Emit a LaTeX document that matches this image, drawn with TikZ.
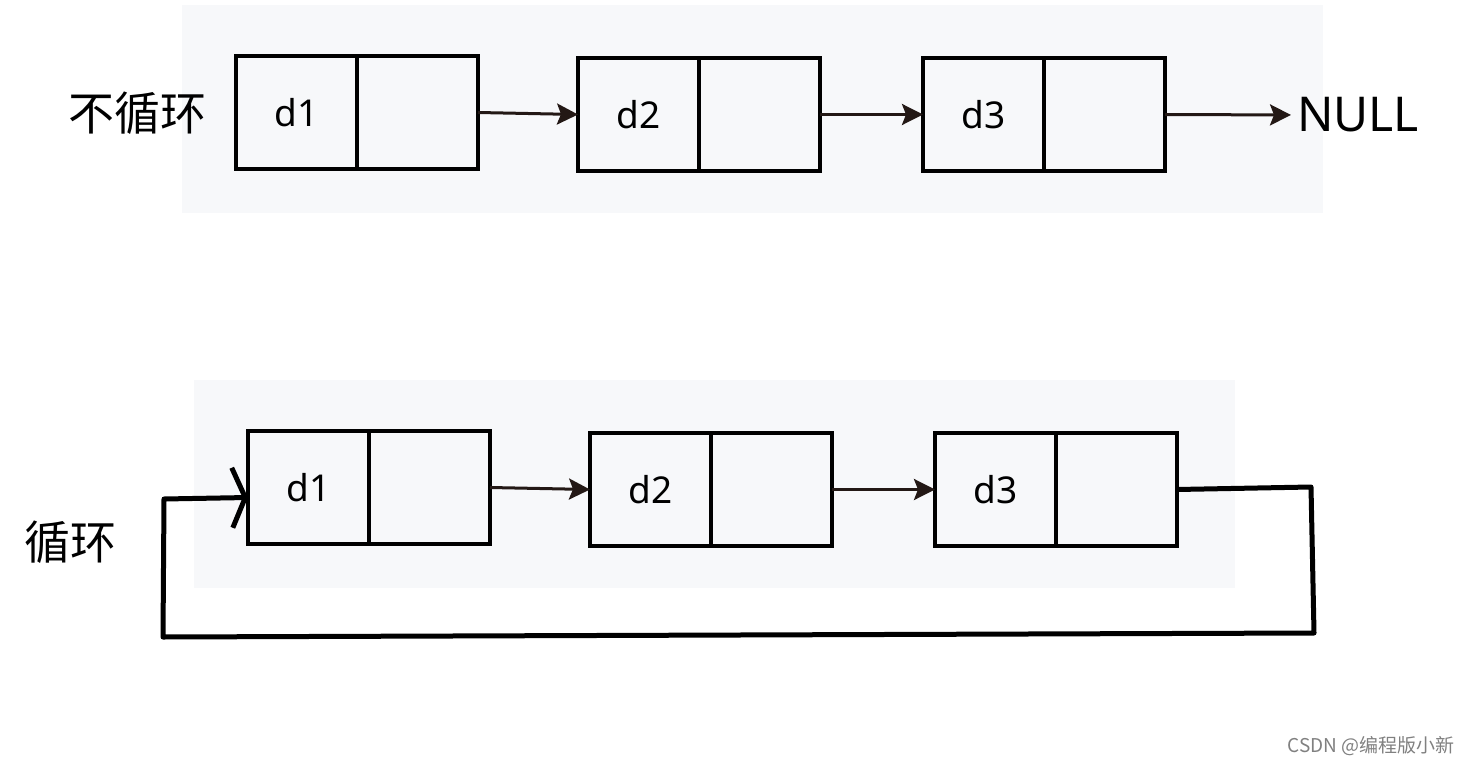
\documentclass[tikz,border=0pt]{standalone}
\usepackage{fontspec}
\setmainfont{Noto Sans}
\newfontfamily\cjk{Noto Sans CJK SC}
\usetikzlibrary{arrows.meta,positioning}
\definecolor{panelbg}{HTML}{F7F8FA}
\definecolor{ink}{HTML}{231815}
\tikzset{
    %Define standard arrow tip
    >={Stealth[length=21pt,width=21pt,inset=4pt]},
    cell/.style={
      rectangle,
      draw=black, line width=3.5pt,
      minimum width=121pt,
      minimum height=113pt,
      inner sep=0pt, outer sep=0pt,
      font=\fontsize{37}{42}\selectfont,
      text centered},
    link/.style={
      ->, draw=ink, line width=3pt},
    panel/.style={
      fill=panelbg, draw=none},
    label/.style={
      font=\cjk\fontsize{46}{52}\selectfont,
      inner sep=0pt},
}
\begin{document}
\begin{tikzpicture}[x=1pt,y=-1pt,node distance=100pt]
    \useasboundingbox (0,0) rectangle (1469,765);
    \fill[panel] (182,5) rectangle (1323,213);
    \fill[panel] (194,380) rectangle (1235,588);
    % top row
    \node (a1) [cell] at (296.5,112.5) {d1};
    \node (a1p) [cell] [right=0pt of a1] {};
    \node (a2) [cell] [right=100pt of a1p, yshift=-2pt] {d2};
    \node (a2p) [cell] [right=0pt of a2] {};
    \node (a3) [cell] [right=103pt of a2p] {d3};
    \node (a3p) [cell] [right=0pt of a3] {};
    \node (null) [anchor=west, inner sep=0pt, font=\fontsize{48}{54}\selectfont]
          at (1297,115) {NULL};
    \node (open) [label] at (137,113) {不循环};
    \draw [link] (a1p.east) -- (a2.west);
    \draw [link] (a2p.east) -- (a3.west);
    \draw [link, shorten >=6pt] (a3p.east) -- (null.west);
    % bottom row
    \node (b1) [cell] at (308.5,487.5) {d1};
    \node (b1p) [cell] [right=0pt of b1] {};
    \node (b2) [cell] [right=100pt of b1p, yshift=-2pt] {d2};
    \node (b2p) [cell] [right=0pt of b2] {};
    \node (b3) [cell] [right=103pt of b2p] {d3};
    \node (b3p) [cell] [right=0pt of b3] {};
    \node (ring) [label] at (70,542) {循环};
    \draw [link] (b1p.east) -- (b2.west);
    \draw [link] (b2p.east) -- (b3.west);
    \coordinate (c1) at (1311,487);
    \coordinate (c2) at (1314,633);
    \coordinate (c3) at (163,637);
    \coordinate (c4) at (164,499);
    \draw [line width=5pt, line join=round,
           -{Straight Barb[length=13pt,width=60pt,line width=5pt]}]
          (b3p.east) -- (c1) -- (c2) -- (c3) -- (c4) -- ([yshift=-10pt]b1.west);
    \node (mark) [font=\cjk\fontsize{19}{21}\selectfont, text=gray, anchor=east, inner sep=0pt]
          at (1455,746) {CSDN @编程版小新};
\end{tikzpicture}
\end{document}
